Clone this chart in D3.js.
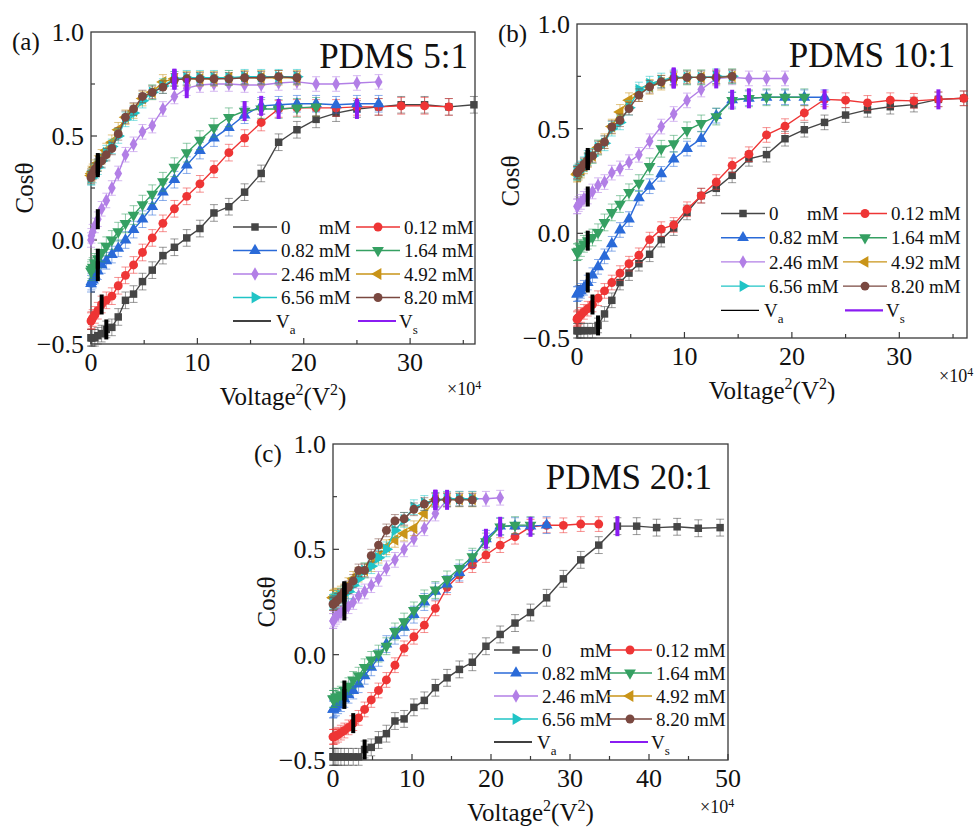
<!DOCTYPE html>
<html>
<head>
<meta charset="utf-8">
<title>Cos theta vs Voltage squared</title>
<style>
  body{margin:0;background:#fff;}
  text{font-family:"Liberation Serif","Times New Roman",serif;fill:#111;}
</style>
</head>
<body>
<div id="chart"></div>
<script src="https://cdn.jsdelivr.net/npm/d3@7"></script>
<script>
// x grid: Voltage^2 in units of 1e4 V^2 (shared by every series)
var vsq = [0, 0.04, 0.16, 0.36, 0.64, 1, 1.44, 1.96, 2.56, 3.24, 4, 4.84, 5.76, 6.76, 7.84, 9,
  10.24, 11.56, 12.96, 14.44, 16, 17.64, 19.36, 21.16, 23.04, 25, 27.04, 29.16, 31.36, 33.64, 36,
  38.44, 40.96, 43.56, 46.24, 49];

var seriesNames = ["0 mM", "0.12 mM", "0.82 mM", "1.64 mM", "2.46 mM", "4.92 mM", "6.56 mM", "8.20 mM"];
var colors = ["#454545", "#ee3535", "#2a6ad8", "#35a062", "#b27fe6", "#c99418", "#20c4c6", "#7a4840"];
var vsColor = "#8a1cf2";

// ---- PDMS 5:1 ----
var a0 = [-0.47,-0.47,-0.47,-0.47,-0.46,-0.45,-0.43,-0.42,-0.37,-0.29,-0.26,-0.2,-0.145,-0.075,-0.035,0.01,0.055,0.13,0.16,0.23,0.32,0.47,0.53,0.58,0.61,0.63,0.64,0.65,0.65,0.64,0.65];
var a1 = [-0.39,-0.385,-0.375,-0.36,-0.34,-0.31,-0.29,-0.27,-0.22,-0.17,-0.12,-0.06,0.01,0.08,0.15,0.21,0.27,0.34,0.42,0.49,0.565,0.63,0.635,0.635,0.635,0.64,0.64,0.645,0.645,0.64];
var a2 = [-0.21,-0.2,-0.19,-0.17,-0.15,-0.12,-0.1,-0.07,-0.04,0.0,0.05,0.1,0.16,0.23,0.29,0.36,0.43,0.49,0.54,0.6,0.645,0.65,0.655,0.655,0.65,0.655,0.655];
var a3 = [-0.15,-0.14,-0.13,-0.11,-0.09,-0.06,-0.03,0.0,0.04,0.08,0.12,0.17,0.22,0.28,0.35,0.42,0.48,0.54,0.59,0.62,0.63,0.63,0.635,0.64];
var a4 = [0.0,0.02,0.04,0.07,0.1,0.15,0.19,0.25,0.32,0.41,0.46,0.52,0.55,0.63,0.69,0.73,0.745,0.75,0.75,0.745,0.745,0.755,0.76,0.75,0.75,0.755,0.76];
var a5 = [0.31,0.32,0.33,0.35,0.37,0.4,0.43,0.47,0.53,0.59,0.62,0.68,0.71,0.76,0.775,0.775,0.775,0.775,0.78,0.78,0.78,0.78,0.78];
var a6 = [0.3,0.3,0.31,0.33,0.35,0.38,0.42,0.45,0.5,0.58,0.61,0.67,0.71,0.74,0.775,0.78,0.78,0.78,0.78,0.785,0.785,0.785,0.785];
var a7 = [0.3,0.31,0.32,0.34,0.36,0.38,0.41,0.44,0.51,0.59,0.63,0.69,0.71,0.735,0.77,0.775,0.775,0.775,0.775,0.78,0.78,0.785,0.78];
var vaA = [1.44, 1, 0.64, 0.64, 0.64, 0.64, 0.64, 0.64];
var vsA = [25, 17.64, 16, 14.44, 9, 7.84, 7.84, 7.84];
var errA = [0.04, 0.04, 0.04, 0.045, 0.035, 0.035, 0.035, 0.03];

// ---- PDMS 10:1 ----
var b0 = [-0.465,-0.465,-0.465,-0.465,-0.465,-0.465,-0.465,-0.44,-0.385,-0.32,-0.235,-0.19,-0.145,-0.1,-0.03,0.025,0.1,0.18,0.215,0.277,0.356,0.376,0.452,0.495,0.53,0.565,0.59,0.605,0.615,0.64,0.645];
var b1 = [-0.41,-0.405,-0.4,-0.39,-0.375,-0.36,-0.34,-0.31,-0.275,-0.235,-0.19,-0.145,-0.105,-0.03,0.02,0.04,0.115,0.18,0.245,0.325,0.378,0.47,0.512,0.575,0.64,0.636,0.623,0.636,0.633,0.64,0.645];
var b2 = [-0.29,-0.29,-0.285,-0.275,-0.26,-0.235,-0.2,-0.16,-0.11,-0.05,0.016,0.068,0.17,0.225,0.284,0.355,0.405,0.452,0.562,0.638,0.645,0.65,0.65,0.65,0.65];
var b3 = [-0.09,-0.09,-0.085,-0.07,-0.05,-0.035,-0.02,0.005,0.052,0.1,0.14,0.196,0.24,0.32,0.404,0.428,0.492,0.525,0.558,0.635,0.645,0.65,0.65,0.65];
var b4 = [0.128,0.13,0.14,0.15,0.165,0.176,0.2,0.23,0.245,0.29,0.31,0.34,0.375,0.44,0.51,0.57,0.635,0.687,0.74,0.745,0.74,0.74,0.74];
var b5 = [0.28,0.285,0.29,0.3,0.32,0.35,0.37,0.41,0.44,0.51,0.58,0.636,0.665,0.7,0.72,0.74,0.745,0.745,0.745,0.75];
var b6 = [0.29,0.29,0.3,0.31,0.33,0.36,0.37,0.41,0.43,0.5,0.53,0.6,0.687,0.715,0.73,0.745,0.745,0.745,0.75,0.75];
var b7 = [0.29,0.29,0.3,0.31,0.33,0.35,0.37,0.41,0.436,0.508,0.54,0.596,0.66,0.7,0.724,0.74,0.745,0.745,0.745,0.75];
var vaB = [1.96, 1.44, 1, 1, 1, 1, 1, 1];
var vsB = [33.64, 23.04, 14.44, 16, 12.96, 9, 9, 9];
var errB = [0.035, 0.035, 0.035, 0.04, 0.035, 0.035, 0.035, 0.03];

// ---- PDMS 20:1 ----
var c0 = [-0.485,-0.485,-0.485,-0.485,-0.485,-0.485,-0.485,-0.485,-0.485,-0.485,-0.45,-0.44,-0.405,-0.375,-0.315,-0.305,-0.25,-0.217,-0.157,-0.11,-0.07,-0.036,0.04,0.096,0.15,0.2,0.27,0.36,0.45,0.52,0.61,0.61,0.603,0.607,0.6,0.603];
var c1 = [-0.39,-0.39,-0.39,-0.385,-0.38,-0.37,-0.36,-0.345,-0.325,-0.3,-0.26,-0.215,-0.17,-0.12,-0.05,0.03,0.085,0.14,0.22,0.32,0.378,0.425,0.473,0.52,0.56,0.607,0.614,0.614,0.62,0.62];
var c2 = [-0.26,-0.26,-0.255,-0.25,-0.24,-0.23,-0.21,-0.19,-0.17,-0.14,-0.1,-0.06,-0.015,0.05,0.09,0.13,0.19,0.25,0.3,0.335,0.39,0.455,0.55,0.61,0.61,0.61,0.615];
var c3 = [-0.21,-0.21,-0.21,-0.2,-0.2,-0.19,-0.17,-0.15,-0.12,-0.1,-0.06,-0.025,0.005,0.04,0.11,0.157,0.21,0.267,0.307,0.357,0.41,0.465,0.537,0.607,0.615,0.615];
var c4 = [0.16,0.16,0.17,0.18,0.19,0.2,0.21,0.23,0.25,0.28,0.3,0.33,0.36,0.41,0.45,0.5,0.55,0.6,0.67,0.735,0.74,0.74,0.74,0.745];
var c5 = [0.27,0.27,0.275,0.28,0.28,0.29,0.3,0.33,0.36,0.38,0.4,0.43,0.47,0.51,0.545,0.575,0.6,0.67,0.735,0.737,0.737,0.737];
var c6 = [0.25,0.25,0.255,0.26,0.27,0.28,0.29,0.3,0.33,0.36,0.4,0.42,0.46,0.5,0.59,0.64,0.7,0.72,0.735,0.74,0.74,0.74];
var c7 = [0.24,0.24,0.245,0.25,0.26,0.28,0.3,0.32,0.35,0.4,0.4,0.47,0.52,0.59,0.635,0.645,0.69,0.715,0.735,0.735,0.735,0.735];
var vaC = [4, 2.56, 1.44, 1.44, 1.44, 1.44, 1.44, 1.44];
var vsC = [36, 25, 19.36, 21.16, 14.44, 12.96, 12.96, 12.96];
var errC = [0.04, 0.035, 0.04, 0.04, 0.035, 0.035, 0.035, 0.03];

var yTicks = [-0.5, 0, 0.5, 1];

var panels = [
  {tag:"(a)", title:"PDMS 5:1", data:[a0,a1,a2,a3,a4,a5,a6,a7], va:vaA, vs:vsA, err:errA,
   left:91, top:32, w:384, h:312, xmax:36.1, xticks:[0,10,20,30], minor:[5,15,25,35],
   titleX:468, titleY:68, expY:395, leg:{x:233, y:227, dy:23.5, x2:356}},
  {tag:"(b)", title:"PDMS 10:1", data:[b0,b1,b2,b3,b4,b5,b6,b7], va:vaB, vs:vsB, err:errB,
   left:577, top:24, w:390, h:314, xmax:36.3, xticks:[0,10,20,30], minor:[5,15,25,35],
   titleX:955, titleY:67, expY:382, leg:{x:721, y:213.5, dy:24.2, x2:843}},
  {tag:"(c)", title:"PDMS 20:1", data:[c0,c1,c2,c3,c4,c5,c6,c7], va:vaC, vs:vsC, err:errC,
   left:333, top:444, w:395, h:316, xmax:50, xticks:[0,10,20,30,40,50], minor:[5,15,25,35,45],
   titleX:712, titleY:489, expY:813, leg:{x:494, y:650, dy:23, x2:608}}
];

var svg = d3.select("#chart").append("svg").attr("width", 974).attr("height", 829);
svg.append("rect").attr("width", 974).attr("height", 829).attr("fill", "#fff");

function symbolFor(i) {
  var types = [d3.symbolSquare, d3.symbolCircle, d3.symbolTriangle, d3.symbolTriangle,
               d3.symbolDiamond, d3.symbolTriangle, d3.symbolTriangle, d3.symbolCircle];
  var sizes = [56, 62, 60, 60, 52, 60, 60, 62];
  return d3.symbol().type(types[i]).size(sizes[i])();
}
var rot = [0, 0, 0, 180, 0, -90, 90, 0];

panels.forEach(function(p) {
  var x = d3.scaleLinear().domain([0, p.xmax]).range([p.left, p.left + p.w]);
  var y = d3.scaleLinear().domain([-0.5, 1]).range([p.top + p.h, p.top]);
  var g = svg.append("g");
  var bottom = p.top + p.h;

  // frame + inward ticks
  g.append("rect").attr("x", p.left).attr("y", p.top).attr("width", p.w).attr("height", p.h)
    .attr("fill", "none").attr("stroke", "#3a3a3a").attr("stroke-width", 1.3);
  p.xticks.concat(p.minor).forEach(function(t) {
    var len = p.xticks.indexOf(t) >= 0 ? 6 : 4;
    g.append("line").attr("x1", x(t)).attr("x2", x(t)).attr("y1", bottom).attr("y2", bottom - len)
      .attr("stroke", "#3a3a3a").attr("stroke-width", 1.2);
  });
  [-0.25, 0, 0.25, 0.5, 0.75].forEach(function(t) {
    var len = (t * 2) % 1 === 0 ? 6 : 4;
    g.append("line").attr("x1", p.left).attr("x2", p.left + len).attr("y1", y(t)).attr("y2", y(t))
      .attr("stroke", "#3a3a3a").attr("stroke-width", 1.2);
  });
  p.xticks.forEach(function(t) {
    g.append("text").attr("x", x(t)).attr("y", bottom + 27).attr("text-anchor", "middle")
      .style("font-size", "26px").text(t);
  });
  yTicks.forEach(function(t) {
    g.append("text").attr("x", p.left - 7).attr("y", y(t)).attr("dy", "0.35em")
      .attr("text-anchor", "end").style("font-size", "26px").text(d3.format(".1f")(t));
  });

  // axis titles
  g.append("text").attr("transform", "translate(" + (p.left - 58) + "," + (p.top + p.h / 2) + ") rotate(-90)")
    .attr("text-anchor", "middle").style("font-size", "25px").text("Cosθ");
  var xt = g.append("text").attr("x", p.left + p.w / 2).attr("y", bottom + 61)
    .attr("text-anchor", "middle").style("font-size", "25px");
  xt.append("tspan").text("Voltage");
  xt.append("tspan").attr("dy", -10).style("font-size", "16px").text("2");
  xt.append("tspan").attr("dy", 10).text("(V");
  xt.append("tspan").attr("dy", -10).style("font-size", "16px").text("2");
  xt.append("tspan").attr("dy", 10).text(")");
  var ex = g.append("text").attr("x", p.left + p.w - 28).attr("y", p.expY).style("font-size", "18px");
  ex.append("tspan").text("×10");
  ex.append("tspan").attr("dy", -6).style("font-size", "12px").text("4");

  g.append("text").attr("x", p.left - 79).attr("y", p.top + 18).style("font-size", "25px").text(p.tag);
  g.append("text").attr("x", p.titleX).attr("y", p.titleY).attr("text-anchor", "end")
    .style("font-size", "35px").text(p.title);

  // series
  p.data.forEach(function(ys, si) {
    var pts = ys.map(function(v, i) { return [vsq[i], v]; });
    var col = colors[si];
    var e = p.err[si];
    var eb = g.append("g").attr("stroke", col).attr("stroke-opacity", 0.55).attr("stroke-width", 1);
    pts.forEach(function(d) {
      eb.append("line").attr("x1", x(d[0])).attr("x2", x(d[0])).attr("y1", y(d[1] - e)).attr("y2", y(d[1] + e));
      eb.append("line").attr("x1", x(d[0]) - 4).attr("x2", x(d[0]) + 4).attr("y1", y(d[1] - e)).attr("y2", y(d[1] - e));
      eb.append("line").attr("x1", x(d[0]) - 4).attr("x2", x(d[0]) + 4).attr("y1", y(d[1] + e)).attr("y2", y(d[1] + e));
    });
    g.append("path").datum(pts).attr("fill", "none").attr("stroke", col).attr("stroke-width", 1.4)
      .attr("d", d3.line().x(function(d) { return x(d[0]); }).y(function(d) { return y(d[1]); }));
    g.append("g").selectAll("path").data(pts).enter().append("path")
      .attr("d", symbolFor(si)).attr("fill", col)
      .attr("transform", function(d) { return "translate(" + x(d[0]) + "," + y(d[1]) + ") rotate(" + rot[si] + ")"; });
  });

  // Va / Vs markers
  p.data.forEach(function(ys, si) {
    [[p.va[si], "#000"], [p.vs[si], vsColor]].forEach(function(m) {
      var idx = vsq.indexOf(m[0]);
      var yv = ys[idx];
      g.append("rect").attr("x", x(m[0]) - 2).attr("y", y(yv) - 10).attr("width", 4).attr("height", 20)
        .attr("fill", m[1]);
    });
  });

  // legend
  var L = p.leg;
  var order = [0, 2, 4, 6, 1, 3, 5, 7];
  var ref = null;
  order.forEach(function(si, k) {
    var col = k < 4 ? 0 : 1;
    var row = k % 4;
    var lx = col === 0 ? L.x : L.x2;
    var ly = L.y + row * L.dy;
    g.append("line").attr("x1", lx).attr("x2", lx + 44).attr("y1", ly).attr("y2", ly)
      .attr("stroke", colors[si]).attr("stroke-width", 1.4);
    g.append("path").attr("d", symbolFor(si)).attr("fill", colors[si])
      .attr("transform", "translate(" + (lx + 22) + "," + ly + ") rotate(" + rot[si] + ")");
    var t = g.append("text").attr("x", lx + 48).attr("y", ly).attr("dy", "0.35em").style("font-size", "19px");
    if (si === 0) {
      t.text("0");
    } else {
      t.text(seriesNames[si]);
      if (si === 2) ref = t;
    }
  });
  var endX = L.x + 48 + ref.node().getComputedTextLength();
  g.append("text").attr("x", endX).attr("y", L.y).attr("dy", "0.35em").attr("text-anchor", "end")
    .style("font-size", "19px").text("mM");
  var vy = L.y + 4 * L.dy;
  g.append("line").attr("x1", L.x).attr("x2", L.x + 38).attr("y1", vy).attr("y2", vy)
    .attr("stroke", "#000").attr("stroke-width", 1.3);
  var va = g.append("text").attr("x", L.x + 43).attr("y", vy).attr("dy", "0.35em").style("font-size", "19px");
  va.append("tspan").text("V");
  va.append("tspan").attr("dy", 6).style("font-size", "13px").text("a");
  g.append("line").attr("x1", L.x2 + 2).attr("x2", L.x2 + 40).attr("y1", vy).attr("y2", vy)
    .attr("stroke", vsColor).attr("stroke-width", 2.2);
  var vs = g.append("text").attr("x", L.x2 + 43).attr("y", vy).attr("dy", "0.35em").style("font-size", "19px");
  vs.append("tspan").text("V");
  vs.append("tspan").attr("dy", 6).style("font-size", "13px").text("s");
});
</script>
</body>
</html>
